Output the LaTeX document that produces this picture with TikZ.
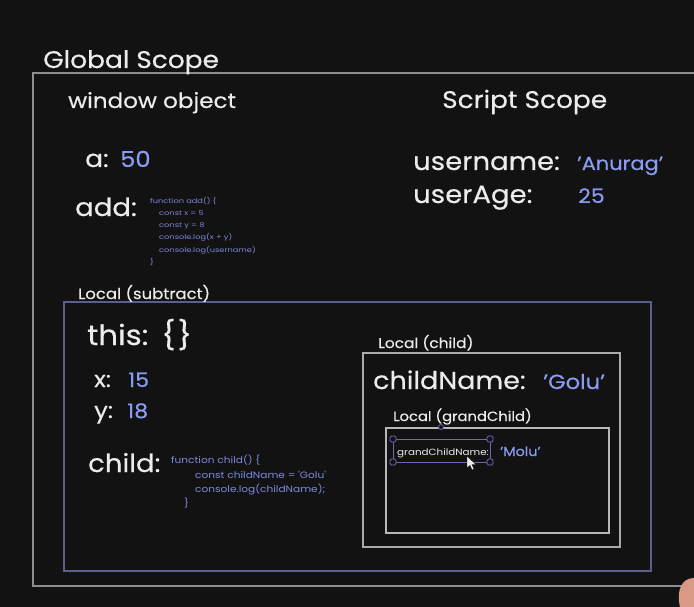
\documentclass[tikz,border=0pt]{standalone}
\usepackage{fontspec}
\setmainfont{Poppins}[FakeStretch=1.1,FakeBold=0.4]
\newfontfamily\codefont{Poppins}[FakeStretch=1.15]
\newfontfamily\widecodefont{Poppins}[FakeStretch=1.25]
\definecolor{boardbg}{HTML}{121212}
\definecolor{chalk}{HTML}{ECECEC}
\definecolor{valblue}{HTML}{8A9BF2}
\definecolor{codeblue}{HTML}{7D89DD}
\definecolor{globalline}{HTML}{8E8E8E}
\definecolor{localline}{HTML}{5A5F8C}
\definecolor{childline}{HTML}{ABABAB}
\definecolor{selline}{HTML}{6D68B4}
\definecolor{skin}{HTML}{D89A84}

\begin{document}
\begin{tikzpicture}[x=1pt,y=-1pt,
      lbl/.style={anchor=base west,inner sep=0pt,text=chalk},
      val/.style={anchor=base west,inner sep=0pt,text=valblue},
      code/.style={anchor=north west,inner sep=0pt,text=codeblue,align=left,
                   font=\widecodefont\fontsize{6.6}{12.2}\selectfont},
      scopebox/.style={draw,line width=1.3pt},
      handle/.style={draw=selline,fill=boardbg,line width=0.8pt,rounded corners=1.5pt,
                     minimum size=6pt,inner sep=0pt}]
    \useasboundingbox (0,0) rectangle (694,607);
    \fill[boardbg] (0,0) rectangle (694,607);

    % boxes
    \draw[scopebox,globalline] (33,73) rectangle (720,586);
    \draw[scopebox,localline]  (64,302) rectangle (651,571);
    \draw[scopebox,childline]  (363,353) rectangle (620,547);
    \draw[scopebox,childline!85] (386,428) rectangle (609,533);

    % global scope
    \node[lbl,font=\fontsize{24}{24}\selectfont] (global) at (43,68) {Global Scope};
    \node[lbl,font=\fontsize{21}{21}\selectfont] (window) at (68,108) {window object};
    \node[lbl,font=\fontsize{24}{24}\selectfont] (script) at (442,108) {Script Scope};

    \node[lbl,font=\fontsize{24}{24}\selectfont] (a) at (85,167) {a:};
    \node[val,font=\fontsize{22}{22}\selectfont] (aval) at (120,167) {50};
    \node[lbl,font=\fontsize{25}{25}\selectfont] (add) at (75,216) {add:};
    \node[code] (addcode) at (150,197) {function add() \{\\
      \hspace*{9pt}const x = 5\\
      \hspace*{9pt}const y = 8\\
      \hspace*{9pt}console.log(x + y)\\
      \hspace*{9pt}console.log(username)\\
      \}};

    \node[lbl,font=\fontsize{25}{25}\selectfont] (uname) at (413,170) {username:};
    \node[val,font=\fontsize{19}{19}\selectfont] (unameval) at (577,170) {'Anurag'};
    \node[lbl,font=\fontsize{25}{25}\selectfont] (uage) at (413,203) {userAge:};
    \node[val,font=\fontsize{20}{20}\selectfont] (uageval) at (578,203) {25};

    % local (subtract)
    \node[lbl,font=\fontsize{15}{15}\selectfont] (subtract) at (78,299) {Local (subtract)};
    \node[lbl,font=\fontsize{28}{28}\selectfont] (this) at (87,345) {this:\hspace{13pt}\{\hspace{2pt}\}};
    \node[lbl,font=\fontsize{22}{22}\selectfont] (x) at (94,387) {x:};
    \node[val,font=\fontsize{20}{20}\selectfont] (xval) at (128,387) {15};
    \node[lbl,font=\fontsize{22}{22}\selectfont] (y) at (94,418) {y:};
    \node[val,font=\fontsize{20}{20}\selectfont] (yval) at (127,418) {18};
    \node[lbl,font=\fontsize{25}{25}\selectfont] (child) at (88,472) {child:};
    \node[code,font=\codefont\fontsize{9.2}{14.3}\selectfont] (childcode) at (171,455) {function child() \{\\
      \hspace*{24pt}const childName = 'Golu'\\
      \hspace*{24pt}console.log(childName);\\
      \hspace*{13pt}\}};

    % local (child)
    \node[lbl,font=\fontsize{14}{14}\selectfont] (childscope) at (378,348) {Local (child)};
    \node[lbl,font=\fontsize{24.5}{24.5}\selectfont] (cname) at (373,389) {childName:};
    \node[val,font=\fontsize{20.5}{20.5}\selectfont] (cnameval) at (543,389) {'Golu'};

    % local (grandChild)
    \node[lbl,font=\fontsize{13.4}{13.4}\selectfont] (gchildscope) at (393,421) {Local (grandChild)};
    \node[lbl,font=\codefont\fontsize{9}{9}\selectfont] (gcname) at (397,455) {grandChildName:};
    \node[val,font=\fontsize{13}{13}\selectfont] (gcnameval) at (500,456) {'Molu'};

    % selection round grandChildName
    \draw[selline,line width=0.9pt] (393,439) rectangle (490,462);
    \foreach \cx/\cy in {393/439,490/439,393/462,490/462}
      \node[handle] at (\cx,\cy) {};
    \node[handle,circle,minimum size=5pt] (rot) at (441,427) {};
    \fill[chalk,draw=black,line width=0.4pt] (467,456) -- (467,468) -- (470,465.5)
      -- (472,470) -- (474,469) -- (472,464.5) -- (476,464.5) -- cycle;

    % hand at the corner
    \fill[skin] (694,578) .. controls (682,578) and (676,590) .. (680,607) -- (694,607) -- cycle;
  \end{tikzpicture}
\end{document}
